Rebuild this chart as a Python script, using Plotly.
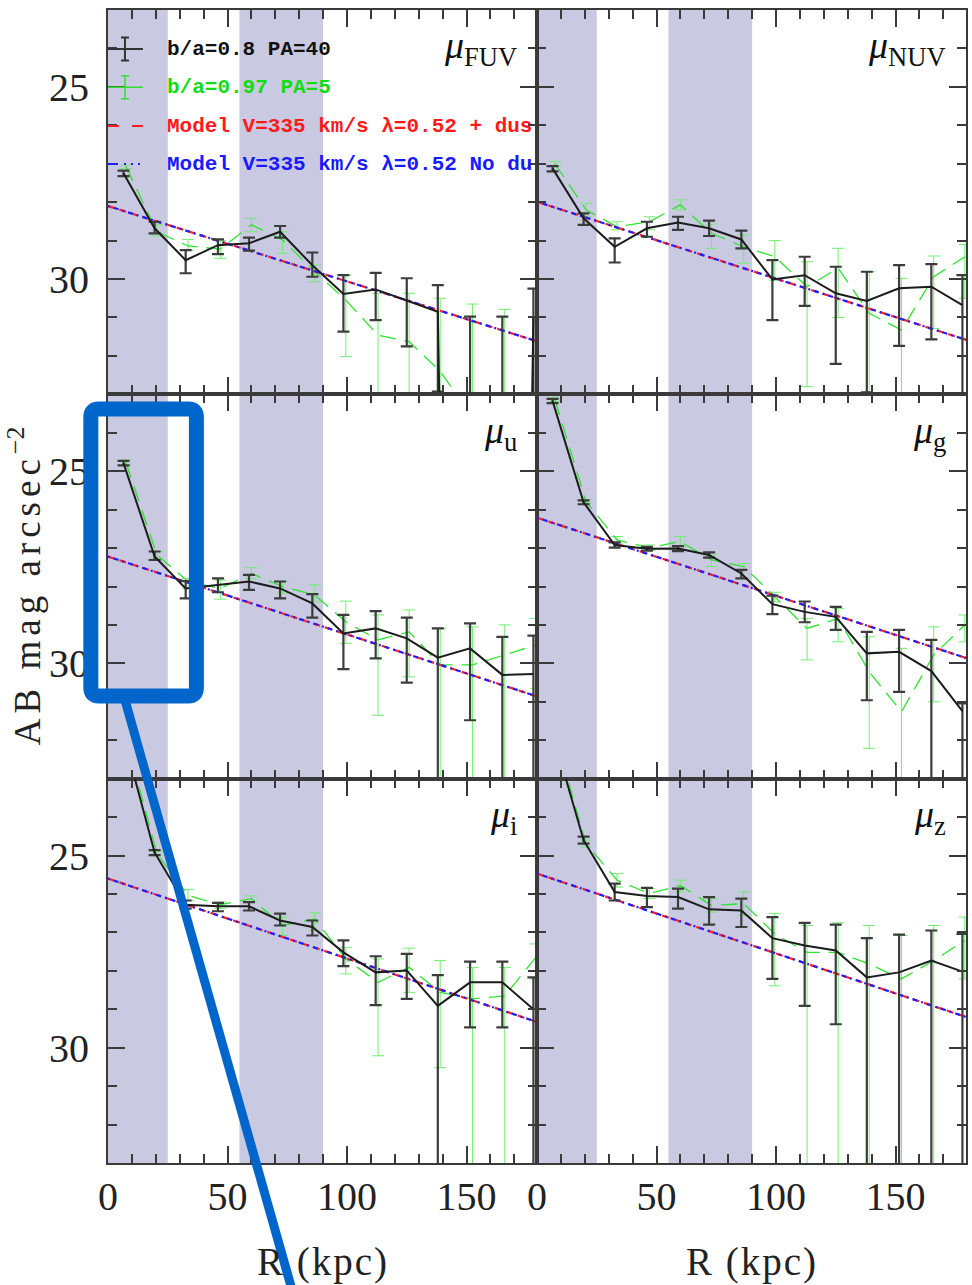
import plotly.graph_objects as go
from plotly.subplots import make_subplots

# ---------------- data ----------------
R_KPC = [6.5, 19.5, 32.5, 46, 59, 72, 85.5, 98.5, 112, 125, 138, 151.5, 165, 178]
R_KPC_ALT = [7.5, 20.5, 33.5, 47, 60, 73, 86.5, 99.5, 113, 126, 139, 152.5, 166, 179]
R_MODEL = [0, 180]
SHADED_KPC = [(0, 25), (55, 90)]
PANEL_LABELS = ["FUV", "NUV", "u", "g", "i", "z"]
X_TICKS = [0, 50, 100, 150]
Y_TICKS = [25, 30]
LEGEND_TEXT = ["b/a=0.8 PA=40", "b/a=0.97 PA=5",
               "Model V=335 km/s λ=0.52 + dus", "Model V=335 km/s λ=0.52 No du"]

# b/a=0.8 PA=40 (black): value, bright end, faint end of error bar
FUV_K = [27.25, 28.68, 29.51, 29.12, 29.07, 28.77, 29.64, 30.39, 30.27, 30.55, 30.85, 80.0, 80.0, 31.00]
FUV_K_LO = [27.18, 28.51, 29.25, 28.97, 28.92, 28.62, 29.31, 29.90, 29.84, 29.98, 30.16, 30.98, 30.98, 30.25]
FUV_K_HI = [27.32, 28.81, 29.85, 29.35, 29.26, 28.92, 29.94, 31.37, 31.07, 31.75, 32.93, 90.0, 90.0, 34.0]
# b/a=0.97 PA=5 (green)
FUV_G = [27.07, 28.77, 29.14, 29.22, 28.59, 28.98, 29.81, 30.55, 31.46, 31.63, 32.40, 33.6, 34.5, 35.0]
FUV_G_LO = [27.03, 28.59, 28.97, 29.00, 28.42, 28.77, 29.64, 29.90, 30.37, 30.37, 30.50, 30.65, 30.79, 33.5]
FUV_G_HI = [27.13, 28.88, 29.25, 29.46, 28.77, 29.33, 30.07, 32.02, 34.0, 34.0, 34.0, 36.0, 36.0, 36.5]
FUV_M = [28.10, 31.63]

NUV_K = [27.12, 28.42, 29.16, 28.68, 28.53, 28.68, 28.97, 30.01, 29.90, 30.37, 30.57, 30.24, 30.20, 30.68]
NUV_K_LO = [27.06, 28.29, 28.94, 28.51, 28.38, 28.48, 28.74, 29.51, 29.42, 29.68, 29.81, 29.64, 29.61, 29.90]
NUV_K_HI = [27.20, 28.59, 29.57, 28.90, 28.72, 28.88, 29.20, 31.07, 30.70, 32.21, 32.95, 31.74, 31.57, 33.20]
NUV_G = [27.00, 28.20, 28.64, 28.51, 28.07, 28.81, 29.16, 29.42, 30.20, 29.72, 30.89, 31.33, 29.94, 29.42]
NUV_G_LO = [26.94, 28.03, 28.51, 28.38, 27.94, 28.57, 28.85, 29.00, 29.55, 29.20, 29.81, 29.98, 29.40, 29.10]
NUV_G_HI = [27.07, 28.38, 28.72, 28.72, 28.20, 29.20, 29.59, 30.03, 32.80, 31.00, 33.20, 33.50, 31.29, 30.50]
NUV_M = [27.99, 31.59]

U_K = [24.79, 27.22, 28.05, 27.96, 27.87, 28.05, 28.44, 29.22, 29.09, 29.35, 29.85, 29.61, 30.30, 30.28]
U_K_LO = [24.73, 27.09, 27.86, 27.79, 27.70, 27.87, 28.20, 28.74, 28.64, 28.81, 29.09, 28.96, 29.31, 29.28]
U_K_HI = [24.85, 27.31, 28.31, 28.15, 28.09, 28.31, 28.81, 30.15, 29.87, 30.50, 33.10, 31.48, 33.10, 33.10]
U_G = [24.77, 27.18, 27.87, 28.05, 27.66, 28.00, 28.22, 28.92, 29.39, 29.18, 30.04, 30.04, 29.78, 29.52]
U_G_LO = [24.71, 27.09, 27.79, 27.83, 27.51, 27.87, 27.96, 28.38, 28.74, 28.61, 29.09, 29.05, 29.00, 28.83]
U_G_HI = [24.83, 27.28, 28.05, 28.33, 27.80, 28.18, 28.40, 29.48, 31.35, 30.35, 33.10, 33.10, 33.10, 30.65]
U_M = [27.22, 30.87]

G_K = [23.17, 25.81, 26.92, 27.02, 27.01, 27.18, 27.66, 28.46, 28.66, 28.79, 29.74, 29.70, 30.20, 31.24]
G_K_LO = [23.12, 25.76, 26.85, 26.97, 26.95, 27.11, 27.57, 28.24, 28.39, 28.53, 29.18, 29.13, 29.39, 31.04]
G_K_HI = [23.23, 25.86, 26.99, 27.07, 27.08, 27.25, 27.79, 28.72, 28.93, 29.13, 30.96, 30.74, 33.10, 33.10]
G_G = [23.14, 25.79, 26.79, 26.99, 26.83, 27.31, 27.48, 28.26, 29.09, 28.83, 30.22, 31.26, 29.78, 29.00]
G_G_LO = [23.09, 25.74, 26.70, 26.92, 26.70, 27.18, 27.40, 28.15, 28.83, 28.57, 29.31, 29.61, 29.05, 28.74]
G_G_HI = [23.19, 25.84, 26.87, 27.06, 26.96, 27.48, 27.79, 28.40, 29.91, 29.44, 32.21, 33.10, 31.00, 29.44]
G_M = [26.21, 29.87]

I_K = [21.90, 24.92, 26.28, 26.32, 26.32, 26.69, 26.86, 27.52, 28.04, 27.99, 28.91, 28.30, 28.30, 29.00]
I_K_LO = [21.85, 24.86, 26.17, 26.23, 26.21, 26.51, 26.69, 27.21, 27.62, 27.56, 28.11, 27.76, 27.76, 28.17]
I_K_HI = [21.95, 24.99, 26.38, 26.45, 26.43, 26.82, 27.08, 27.88, 28.89, 28.73, 33.10, 29.47, 29.47, 33.10]
I_G = [21.95, 24.95, 26.04, 26.28, 26.12, 26.82, 26.65, 27.69, 28.30, 27.91, 28.56, 28.73, 28.65, 27.65]
I_G_LO = [21.90, 24.89, 25.88, 26.21, 26.05, 26.60, 26.49, 27.39, 27.69, 27.41, 27.73, 27.91, 27.91, 27.30]
I_G_HI = [22.00, 25.01, 26.17, 26.38, 26.21, 27.08, 26.95, 28.08, 30.21, 28.56, 30.52, 33.10, 33.10, 28.21]
I_M = [25.60, 29.34]

Z_K = [21.80, 24.60, 25.95, 26.05, 26.08, 26.40, 26.43, 27.15, 27.34, 27.47, 28.17, 28.04, 27.73, 28.02]
Z_K_LO = [21.75, 24.51, 25.73, 25.84, 25.86, 26.08, 26.12, 26.60, 26.75, 26.80, 27.15, 27.06, 26.95, 27.04]
Z_K_HI = [21.85, 24.69, 26.17, 26.34, 26.38, 26.80, 26.86, 28.21, 28.91, 29.39, 33.10, 33.10, 33.10, 33.10]
Z_G = [21.85, 24.69, 25.64, 25.99, 25.78, 26.30, 26.25, 27.04, 27.52, 27.52, 27.82, 28.21, 27.73, 27.21]
Z_G_LO = [21.80, 24.60, 25.47, 25.86, 25.64, 26.12, 25.95, 26.51, 26.82, 26.75, 26.82, 27.08, 26.82, 26.60]
Z_G_HI = [21.90, 24.78, 25.82, 26.12, 25.95, 26.47, 26.56, 28.39, 33.10, 33.10, 33.10, 33.10, 33.10, 28.21]
Z_M = [25.47, 29.21]

PANELS = [
    (FUV_K, FUV_K_LO, FUV_K_HI, FUV_G, FUV_G_LO, FUV_G_HI, FUV_M),
    (NUV_K, NUV_K_LO, NUV_K_HI, NUV_G, NUV_G_LO, NUV_G_HI, NUV_M),
    (U_K, U_K_LO, U_K_HI, U_G, U_G_LO, U_G_HI, U_M),
    (G_K, G_K_LO, G_K_HI, G_G, G_G_LO, G_G_HI, G_M),
    (I_K, I_K_LO, I_K_HI, I_G, I_G_LO, I_G_HI, I_M),
    (Z_K, Z_K_LO, Z_K_HI, Z_G, Z_G_LO, Z_G_HI, Z_M),
]

# ---------------- style ----------------
W, H = 972, 1285
ML, MR, MT, MB = 108, 4, 10, 122
BLACK_LINE = "#1c1c1c"
BLACK_ERR = "#3c3c3c"
GREEN_LINE = "#2fe42f"
GREEN_ERR = "#70ee70"
RED = "#ff2020"
BLUE = "#2020ff"
BAND = "#c9c9e1"
FRAME = "#3a3a3a"
SERIF = "Liberation Serif"
MONO = "Liberation Mono"
OVERLAY = "#0066cc"


def err_plus(v, hi):
    return [h - a for a, h in zip(v, hi)]


def err_minus(v, lo):
    return [a - l for a, l in zip(v, lo)]


fig = make_subplots(rows=3, cols=2, horizontal_spacing=0, vertical_spacing=0)

for k, (kv, klo, khi, gv, glo, ghi, mv) in enumerate(PANELS):
    r, c = k // 2 + 1, k % 2 + 1
    fig.add_trace(go.Scatter(
        x=R_KPC_ALT, y=gv, mode="lines",
        line=dict(color=GREEN_LINE, width=1.3, dash="16px,9px"),
        error_y=dict(type="data", symmetric=False, array=err_plus(gv, ghi),
                     arrayminus=err_minus(gv, glo), color=GREEN_ERR,
                     thickness=1, width=6),
        showlegend=False, hoverinfo="skip"), row=r, col=c)
    fig.add_trace(go.Scatter(
        x=R_MODEL, y=mv, mode="lines",
        line=dict(color=RED, width=2.2, dash="7px,5px"),
        showlegend=False, hoverinfo="skip"), row=r, col=c)
    fig.add_trace(go.Scatter(
        x=R_MODEL, y=mv, mode="lines",
        line=dict(color=BLUE, width=2.2, dash="2px,4px,5px,4px"),
        showlegend=False, hoverinfo="skip"), row=r, col=c)
    fig.add_trace(go.Scatter(
        x=R_KPC, y=kv, mode="lines",
        line=dict(color=BLACK_LINE, width=2),
        error_y=dict(type="data", symmetric=False, array=err_plus(kv, khi),
                     arrayminus=err_minus(kv, klo), color=BLACK_ERR,
                     thickness=2.2, width=6),
        showlegend=False, hoverinfo="skip"), row=r, col=c)
    for x0, x1 in SHADED_KPC:
        fig.add_vrect(x0=x0, x1=x1, row=r, col=c, fillcolor=BAND, opacity=1,
                      line_width=0, layer="below")
    idx = k + 1
    sfx = "" if idx == 1 else str(idx)
    fig.add_annotation(xref=f"x{sfx} domain", yref=f"y{sfx} domain", x=0.957, y=0.9,
                       text=f"<i>μ</i><sub>{PANEL_LABELS[k]}</sub>", showarrow=False,
                       xanchor="right", yanchor="middle",
                       font=dict(family=SERIF, size=38, color="#111"))

    fig.update_xaxes(row=r, col=c, range=[0, 179.5], tickmode="array", tickvals=X_TICKS,
                     ticks="inside", ticklen=17, tickwidth=1.5, tickcolor=FRAME,
                     showline=True, linecolor=FRAME, linewidth=2, mirror="ticks",
                     showgrid=False, zeroline=False, showticklabels=(r == 3),
                     ticklabelstandoff=-3,
                     tickfont=dict(family=SERIF, size=40, color="#222"),
                     minor=dict(tickmode="linear", tick0=0, dtick=10, ticks="inside",
                                ticklen=9, tickwidth=1.5, tickcolor=FRAME, showgrid=False))
    fig.update_yaxes(row=r, col=c, range=[33, 23], tickmode="array", tickvals=Y_TICKS,
                     ticks="inside", ticklen=17, tickwidth=1.5, tickcolor=FRAME,
                     showline=True, linecolor=FRAME, linewidth=2, mirror="ticks",
                     showgrid=False, zeroline=False, showticklabels=(c == 1),
                     ticklabelstandoff=9,
                     tickfont=dict(family=SERIF, size=40, color="#222"),
                     minor=dict(tickmode="linear", tick0=23, dtick=1, ticks="inside",
                                ticklen=9, tickwidth=1.5, tickcolor=FRAME, showgrid=False))

# ---------------- legend (inside first panel) ----------------
PH = (H - MT - MB) / 3.0
PW = (W - ML - MR) / 2.0


def dx(px):
    return px / PW


def dy(py):
    return 1 - py / PH


rows_px = [39, 77.3, 116, 154]
tc = ["#111111", "#11dd11", "#ff1a1a", "#1a1aff"]
D = dict(xref="x domain", yref="y domain")
for i in (0, 1):
    yy = rows_px[i]
    col = "#333333" if i == 0 else "#33dd33"
    wd = 2 if i == 0 else 1.5
    fig.add_shape(type="line", x0=dx(0), x1=dx(35), y0=dy(yy), y1=dy(yy),
                  line=dict(color=col, width=wd), **D)
    fig.add_shape(type="line", x0=dx(17), x1=dx(17), y0=dy(yy - 11.5), y1=dy(yy + 11.5),
                  line=dict(color=col, width=wd), **D)
    for e in (-11.5, 11.5):
        fig.add_shape(type="line", x0=dx(13), x1=dx(21), y0=dy(yy + e), y1=dy(yy + e),
                      line=dict(color=col, width=wd), **D)
fig.add_shape(type="line", x0=dx(0), x1=dx(35), y0=dy(rows_px[2]), y1=dy(rows_px[2]),
              line=dict(color="#ff2020", width=2, dash="11px,13px"), **D)
fig.add_shape(type="line", x0=dx(0), x1=dx(34), y0=dy(rows_px[3]), y1=dy(rows_px[3]),
              line=dict(color="#2020ff", width=2, dash="10px,6px,2px,5px,2px,5px,2px,5px"), **D)
for i, t in enumerate(LEGEND_TEXT):
    fig.add_annotation(x=dx(57), y=dy(rows_px[i]), text=t, showarrow=False,
                       xanchor="left", yanchor="middle",
                       font=dict(family=MONO, size=21, color=tc[i], weight="bold"), **D)


# ---------------- axis titles ----------------
def px_x(px):
    return (px - ML) / (W - ML - MR)


def px_y(py):
    return (H - MB - py) / (H - MT - MB)


fig.add_annotation(xref="paper", yref="paper", x=px_x(24), y=px_y(586), textangle=-90,
                   text="<span style='letter-spacing:5px'>AB mag arcsec</span><sup>−2</sup>",
                   showarrow=False, xanchor="center", yanchor="middle",
                   font=dict(family=SERIF, size=37, color="#222"))
for cx in (px_x(323), px_x(753)):
    fig.add_annotation(xref="paper", yref="paper", x=cx, y=px_y(1262),
                       text="<span style='letter-spacing:2px'>R (kpc)</span>", showarrow=False,
                       xanchor="center", yanchor="middle",
                       font=dict(family=SERIF, size=39, color="#222"))

# ---------------- highlight overlay ----------------
bx0, bx1, by0, by1, rr = 90.8, 196.6, 409, 696, 8


def P(x, y):
    return f"{px_x(x):.5f},{px_y(y):.5f}"


path = (f"M {P(bx0 + rr, by0)} L {P(bx1 - rr, by0)} Q {P(bx1, by0)} {P(bx1, by0 + rr)} "
        f"L {P(bx1, by1 - rr)} Q {P(bx1, by1)} {P(bx1 - rr, by1)} "
        f"L {P(bx0 + rr, by1)} Q {P(bx0, by1)} {P(bx0, by1 - rr)} "
        f"L {P(bx0, by0 + rr)} Q {P(bx0, by0)} {P(bx0 + rr, by0)} Z")
fig.add_shape(type="path", path=path, xref="paper", yref="paper",
              line=dict(color=OVERLAY, width=15), layer="above")
fig.add_shape(type="line", xref="paper", yref="paper",
              x0=px_x(125), y0=px_y(700), x1=px_x(292.5), y1=px_y(1290),
              line=dict(color=OVERLAY, width=9), layer="above")

fig.update_layout(width=W, height=H, margin=dict(l=ML, r=MR, t=MT, b=MB),
                  paper_bgcolor="white", plot_bgcolor="white", showlegend=False)

fig.write_html("out.html")
